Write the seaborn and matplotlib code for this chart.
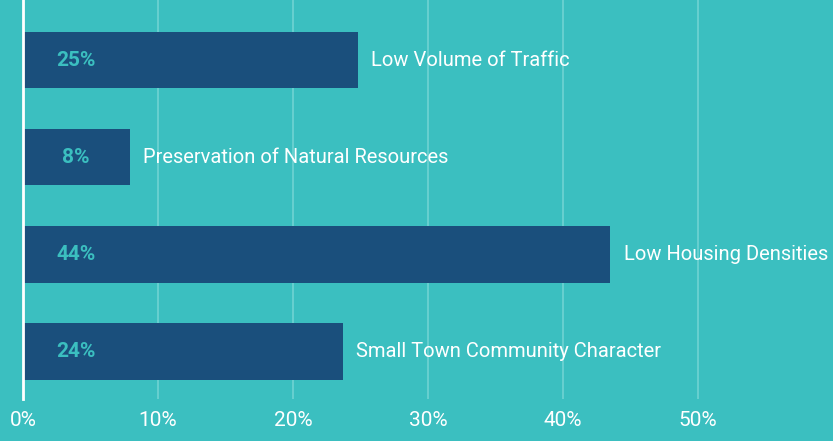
import matplotlib
matplotlib.use("Agg")
import matplotlib.pyplot as plt
import seaborn as sns
import pandas as pd

# survey data
categories = [
    "Low Volume of Traffic",
    "Preservation of Natural Resources",
    "Low Housing Densities",
    "Small Town Community Character",
]
values = [24.8, 7.9, 43.5, 23.7]
pct_labels = ["25%", "8%", "44%", "24%"]
xticks = [0, 10, 20, 30, 40, 50]

BG = "#3bbfc0"
BAR = "#1a4f7c"
GRID = "#6fd3d3"

sns.set_theme(style="white")
plt.rcParams["font.family"] = ["Roboto", "DejaVu Sans"]

df = pd.DataFrame({"category": categories, "value": values})

fig = plt.figure(figsize=(8.33, 4.41), dpi=100, facecolor=BG)
ax = fig.add_axes([23 / 833, 42 / 441, 810 / 833, 399 / 441])
ax.set_facecolor(BG)

sns.barplot(data=df, x="value", y="category", orient="h", color=BAR,
            width=0.58, saturation=1, linewidth=0, ax=ax, zorder=3)

ax.set_xlim(0, 60)
ax.set_ylim(3.49, -0.62)
ax.set_xticks(xticks)
ax.set_xticklabels([f"{t}%" for t in xticks], color="white", fontsize=15)
ax.tick_params(axis="x", length=0, pad=9)
ax.set_yticks([])
ax.set_xlabel("")
ax.set_ylabel("")
ax.grid(axis="x", color=GRID, linewidth=1.2, zorder=0)

for s in ["top", "right", "bottom"]:
    ax.spines[s].set_visible(False)
ax.spines["left"].set_color("white")
ax.spines["left"].set_linewidth(2)
ax.spines["left"].set_zorder(5)

for i, (v, lab, cat) in enumerate(zip(values, pct_labels, categories)):
    ax.text(3.9, i, lab, color=BG, fontsize=15, fontweight="bold",
            ha="center", va="center", zorder=4)
    ax.text(v + 1.0, i, cat, color="white", fontsize=14.5,
            ha="left", va="center", zorder=4)

fig.savefig("out.png", dpi=100, facecolor=BG)
